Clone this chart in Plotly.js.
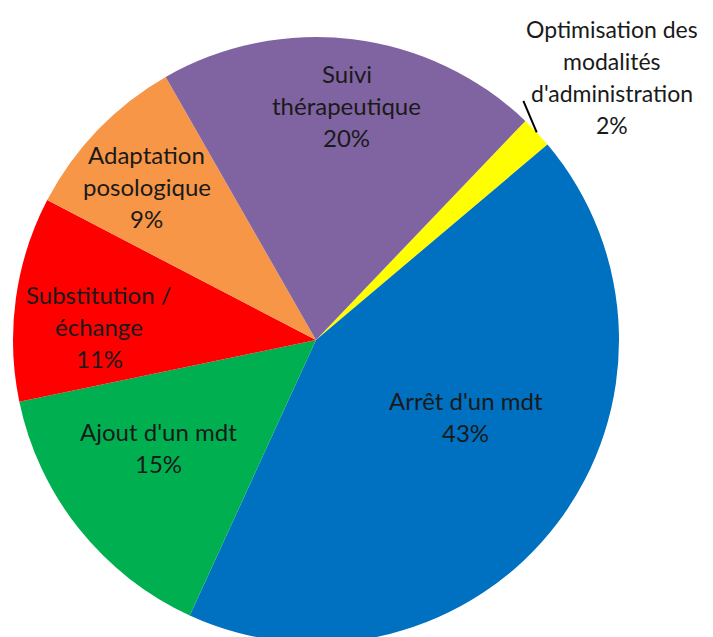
<!DOCTYPE html>
<html><head><meta charset="utf-8">
<script src="https://cdn.plot.ly/plotly-3.0.1.min.js"></script>
<style>html,body{margin:0;padding:0;overflow:hidden;background:#fff}</style>
</head><body>
<div id="chart" style="width:713px;height:660px"></div>
<script>
// Data
const labels = ["Optimisation des<br>modalités<br>d'administration", "Arrêt d'un mdt", "Ajout d'un mdt", "Substitution /<br>échange", "Adaptation<br>posologique", "Suivi<br>thérapeutique"];
const values = [1.7, 43.0, 14.9, 10.9, 9.1, 20.4];
const colors = ["#FFFF00", "#0070C0", "#00B050", "#FF0000", "#F79646", "#8064A2"];

// Label placement (style): angular offset from slice middle (deg), radius as fraction of pie radius, font size
const labelAngleOffset = [1.6, -10.3, 4.1, -4.4, -1.7, 0.5];
const labelRadius = [1.307, 0.555, 0.629, 0.717, 0.753, 0.782];
const labelSize = [23, 24, 24, 24, 24, 24];
const lineHeight = 32;
const rotation = 43.7;

const total = values.reduce((a, b) => a + b, 0);
const annotations = [];
let cum = 0;
values.forEach((v, i) => {
  const mid = rotation + 360 * (cum + v / 2) / total;
  cum += v;
  const a = (mid + labelAngleOffset[i]) * Math.PI / 180;
  const r = labelRadius[i];
  const x = 0.5 + 0.5 * r * Math.sin(a), y = 0.5 + 0.5 * r * Math.cos(a);
  const lines = labels[i].split("<br>").concat([Math.round(100 * v / total) + "%"]);
  lines.forEach((t, k) => {
    annotations.push({
      xref: "paper", yref: "paper", x: x, y: y,
      yshift: -(k - (lines.length - 1) / 2) * lineHeight,
      xanchor: "center", yanchor: "middle",
      text: t, showarrow: false,
      font: {family: "Lato, sans-serif", size: labelSize[i], color: "#1a1a1a"}
    });
  });
  if (i === 0) {
    const am = mid * Math.PI / 180;
    annotations.push({
      xref: "paper", yref: "paper",
      x: 0.5 + 0.5 * Math.sin(am), y: 0.5 + 0.5 * Math.cos(am),
      ax: -14, ay: -33, text: "", showarrow: true,
      arrowhead: 0, arrowwidth: 2, arrowcolor: "#000", standoff: 0
    });
  }
});

Plotly.newPlot("chart", [{
  type: "pie",
  labels: labels,
  values: values,
  sort: false,
  direction: "clockwise",
  rotation: rotation,
  marker: {colors: colors, line: {width: 0}},
  textinfo: "none",
  hoverinfo: "none",
  showlegend: false
}], {
  width: 713, height: 660,
  margin: {l: 13, r: 94, t: 37, b: 17},
  paper_bgcolor: "#fff",
  showlegend: false,
  annotations: annotations
}, {staticPlot: true});
</script>
</body></html>
